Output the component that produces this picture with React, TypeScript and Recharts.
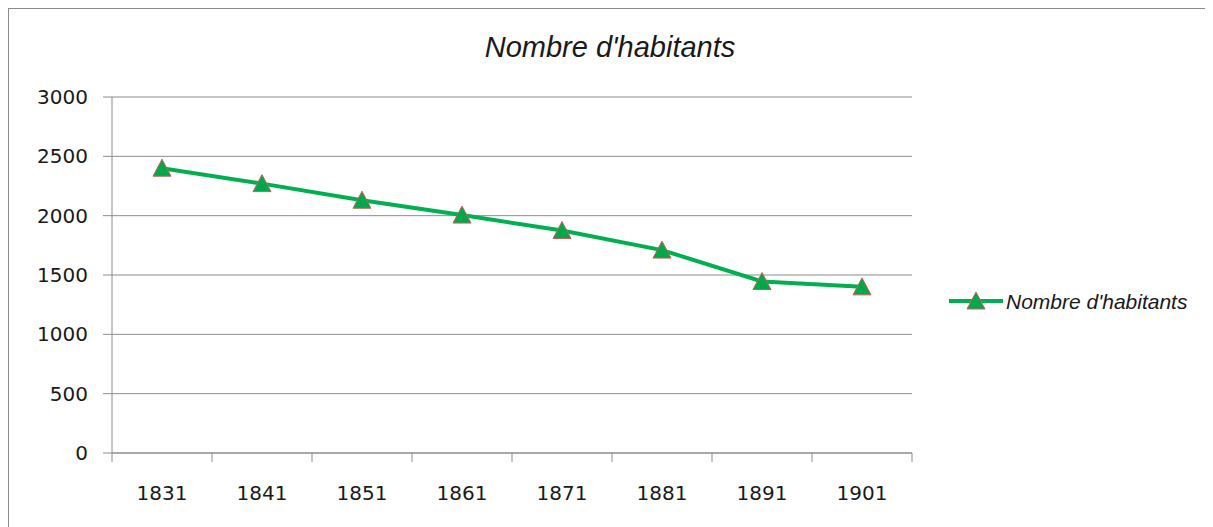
import React from 'react';
import { LineChart, Line, XAxis, YAxis, CartesianGrid, Legend, Customized } from 'recharts';

const years = ['1831', '1841', '1851', '1861', '1871', '1881', '1891', '1901'];
const population = [2400, 2270, 2130, 2005, 1875, 1710, 1445, 1400];
const yTicks = [0, 500, 1000, 1500, 2000, 2500, 3000];
const seriesName = "Nombre d'habitants";
const title = "Nombre d'habitants";

const data = years.map((year, i) => ({ year, pop: population[i] }));

const W = 1199;
const H = 520;
const LEGEND_W = 260;
const PLOT_W = 800;
const Y_AXIS_W = 103;
const MARGIN = { top: 88, right: W - Y_AXIS_W - PLOT_W - LEGEND_W, bottom: 0, left: 0 };
const HALF_BAND = PLOT_W / years.length / 2;

const LINE_COLOR = '#00B050';
const MARKER_FILL = '#00A84A';
const MARKER_STROKE = '#C8605A';
const GRID = '#8c8c8c';
const TEXT = '#1a1a1a';
const AXIS_FONT = '"DejaVu Sans", sans-serif';
const TITLE_FONT = '"Liberation Sans", Arial, sans-serif';

const TriangleDot = (props: any) => {
  const { cx, cy } = props;
  if (cx == null || cy == null) return null;
  return (
    <polygon
      points={`${cx},${cy - 9} ${cx - 9},${cy + 8} ${cx + 9},${cy + 8}`}
      fill={MARKER_FILL}
      stroke={MARKER_STROKE}
      strokeWidth={1}
    />
  );
};

const XTick = (props: any) => {
  const { x, y, payload, index } = props;
  return (
    <g>
      <line x1={x - HALF_BAND} y1={y - 9} x2={x - HALF_BAND} y2={y} stroke={GRID} strokeWidth={1} />
      {index === years.length - 1 && (
        <line x1={x + HALF_BAND} y1={y - 9} x2={x + HALF_BAND} y2={y} stroke={GRID} strokeWidth={1} />
      )}
      <text x={x} y={y + 38} textAnchor="middle" fill={TEXT} fontSize={20} fontFamily={AXIS_FONT}>
        {payload.value}
      </text>
    </g>
  );
};

const LegendContent = () => (
  <svg width={LEGEND_W} height={30}>
    <line x1={0} y1={15} x2={54} y2={15} stroke={LINE_COLOR} strokeWidth={4} />
    <polygon points={`27,6 18,23 36,23`} fill={MARKER_FILL} stroke={MARKER_STROKE} strokeWidth={1} />
    <text x={57} y={22.5} fontSize={21} fontStyle="italic" fontFamily={TITLE_FONT} fill={TEXT}>
      {seriesName}
    </text>
  </svg>
);

const Title = () => (
  <text x={601} y={48} textAnchor="middle" fontSize={29} fontStyle="italic" fontFamily={TITLE_FONT} fill={TEXT}>
    {title}
  </text>
);

export default function App() {
  return (
    <div
      style={{
        width: W,
        height: H,
        border: '1px solid #8a8a8a',
        background: '#fff',
        overflow: 'hidden',
      }}
    >
      <LineChart width={W} height={H} data={data} margin={MARGIN}>
        <CartesianGrid vertical={false} stroke={GRID} strokeWidth={1} />
        <XAxis
          dataKey="year"
          interval={0}
          padding={{ left: HALF_BAND, right: HALF_BAND }}
          height={H - MARGIN.top - 356}
          axisLine={{ stroke: GRID, strokeWidth: 1 }}
          tickLine={{ stroke: 'none' }}
          tickSize={9}
          tickMargin={0}
          tick={(p: any) => <XTick {...p} />}
        />
        <YAxis
          width={Y_AXIS_W}
          domain={[0, 3000]}
          ticks={yTicks}
          interval={0}
          axisLine={{ stroke: GRID, strokeWidth: 1 }}
          tickLine={{ stroke: GRID, strokeWidth: 1 }}
          tickSize={9}
          tickMargin={15}
          tick={{ fill: TEXT, fontSize: 20, fontFamily: AXIS_FONT }}
        />
        <Legend
          layout="horizontal"
          verticalAlign="middle"
          align="right"
          wrapperStyle={{ left: 940, top: 277, right: undefined, width: LEGEND_W }}
          content={() => <LegendContent />}
        />
        <Customized component={Title} />
        <Line
          type="linear"
          dataKey="pop"
          name={seriesName}
          stroke={LINE_COLOR}
          strokeWidth={4}
          dot={(p: any) => <TriangleDot key={p.index} {...p} />}
          activeDot={false}
          isAnimationActive={false}
        />
      </LineChart>
    </div>
  );
}
